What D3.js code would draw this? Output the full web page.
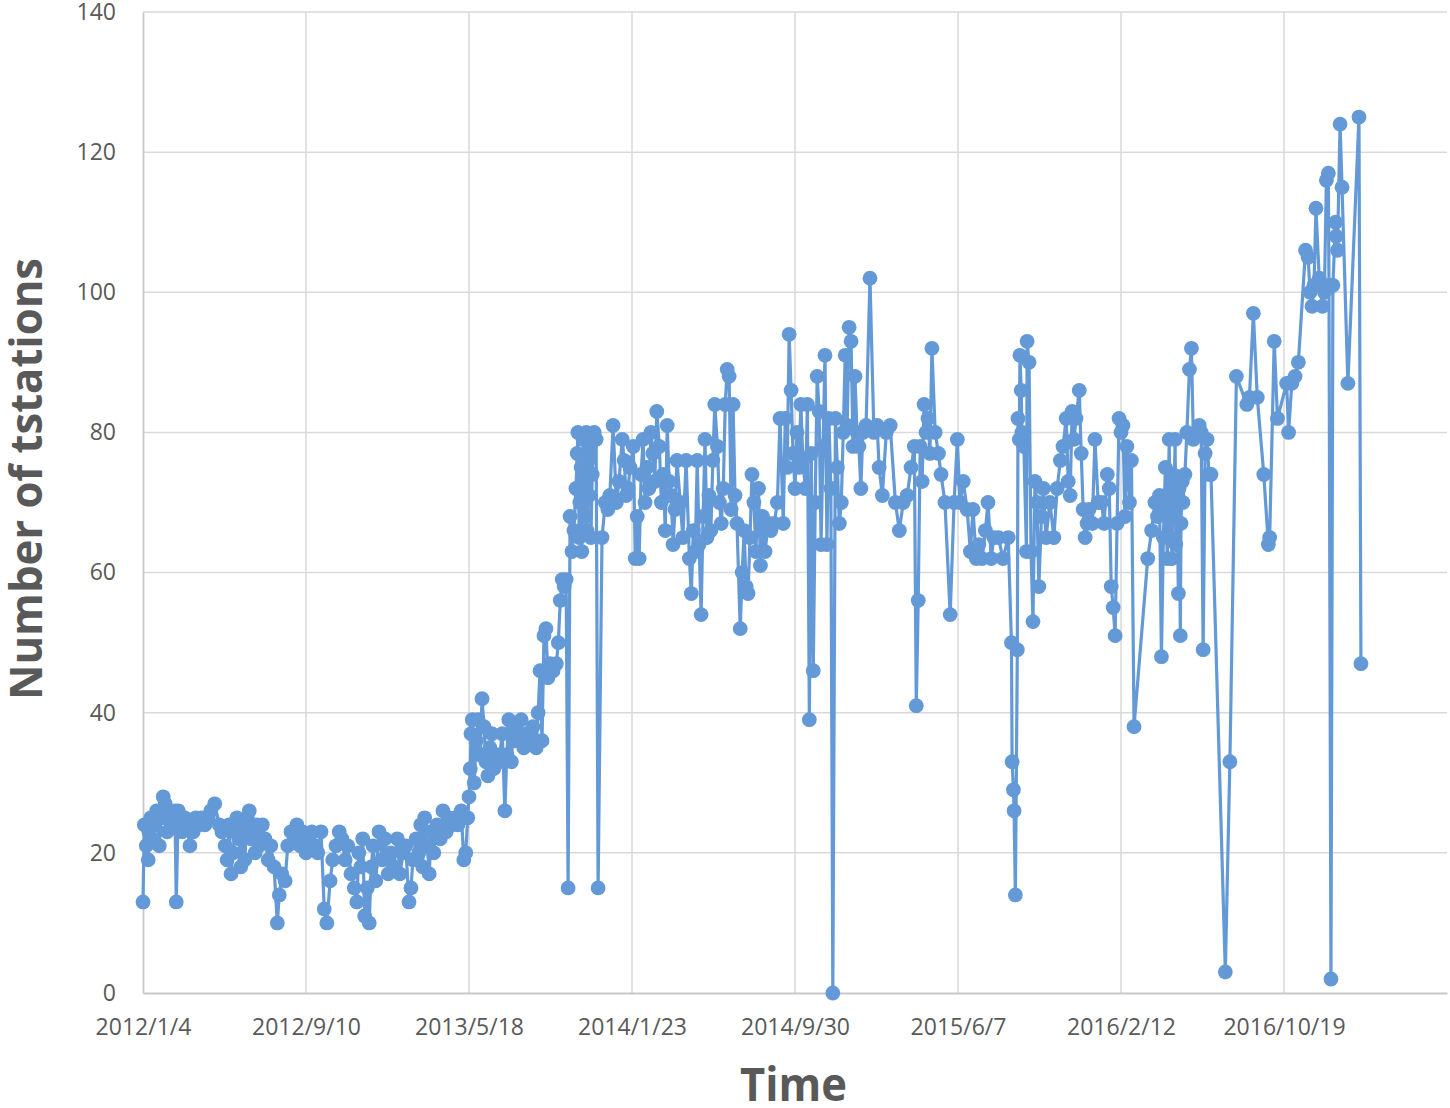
<!DOCTYPE html>
<html>
<head>
<meta charset="utf-8">
<script src="https://cdn.jsdelivr.net/npm/d3@7"></script>
<style>
  body { margin: 0; background: #ffffff; }
  svg text { font-family: "Open Sans", "Noto Sans", sans-serif; fill: #595959; }
</style>
</head>
<body>
<svg id="chart" width="1450" height="1108"></svg>
<script>
// ---------------- data ----------------
const startDate = "2012-01-04";
const xTickDays = [0, 250, 500, 750, 1000, 1250, 1500, 1750];
const xMaxDays = 2000;
const yTicks = [0, 20, 40, 60, 80, 100, 120, 140];
const xTitle = "Time";
const yTitle = "Number of tstations";

// days since 2012/1/4
const dayOffsets = [
  0,2,5,8,9,12,15,18,21,25,28,31,34,37,40,43,46,49,51,54,57,60,64,67,72,77,81,86,90,95,100,104,110,117,121,126,129,132,135,138,141,144,147,150,153,156,160,163,166,169,172,175,178,183,187,192,196,201,206,209,213,218,222,227,232,236,241,245,250,
  255,259,264,268,273,278,282,287,291,296,301,305,310,314,319,324,328,331,334,337,340,344,347,350,353,357,362,367,371,376,380,385,390,394,399,403,408,411,414,419,423,426,429,432,436,439,442,446,451,456,460,465,469,474,479,483,488,492,495,498,
  500,502,503,505,508,511,514,517,520,523,526,529,532,535,538,542,546,551,555,558,561,565,568,571,575,580,584,589,594,598,603,606,609,612,615,618,621,624,629,634,637,640,643,646,649,652,655,658,661,664,666,667,669,670,672,673,675,677,678,680,681,683,684,686,687,689,692,695,698,704,709,713,716,721,726,730,735,738,741,744,747,
  752,755,758,761,764,767,770,773,776,779,782,785,788,792,795,798,801,804,807,810,813,816,819,824,828,833,838,841,844,847,850,853,856,859,862,865,868,871,874,877,881,884,887,890,893,896,899,902,905,908,911,916,919,922,925,928,931,934,937,940,944,947,950,954,959,963,968,973,977,982,985,988,991,994,997,1000,
  1003,1006,1009,1012,1016,1019,1022,1025,1028,1031,1034,1037,1040,1043,1046,1049,1052,1055,1058,1062,1065,1068,1071,1074,1077,1080,1083,1086,1089,1092,1095,1098,1101,1104,1109,1115,1121,1126,1129,1134,1140,1146,1154,1160,1166,1172,1178,1183,1186,1189,1192,1195,1198,1201,1204,1207,1210,1215,1220,1224,1230,1238,1244,1249,
  1253,1258,1264,1269,1273,1278,1282,1287,1292,1296,1301,1305,1312,1319,1327,1332,1333,1335,1336,1338,1341,1342,1344,1345,1347,1348,1351,1355,1356,1359,1362,1365,1368,1371,1374,1378,1381,1385,1391,1397,1402,1407,1411,1416,1419,1422,1425,1428,1431,1436,1439,1442,1445,1448,1451,1456,1460,1465,1470,1474,1479,1482,1485,1488,1491,1494,1497,1500,
  1503,1506,1509,1513,1516,1520,1541,1547,1552,1556,1559,1562,1565,1568,1569,1571,1572,1574,1575,1577,1578,1580,1581,1583,1584,1586,1588,1589,1591,1592,1594,1595,1598,1601,1605,1608,1611,1615,1620,1623,1626,1629,1632,1635,1638,1660,1667,1677,1693,1697,1703,1709,1719,1726,1728,1735,1740,
  1754,1757,1762,1767,1772,1783,1787,1790,1793,1796,1799,1804,1809,1812,1815,1818,1819,1822,1825,1829,1830,1832,1836,1839,1848,1865,1868
];

const stations = [
  13,24,21,19,23,25,22,24,26,21,25,28,27,23,26,24,25,26,13,26,24,23,25,24,21,23,25,24,25,24,25,26,27,24,23,21,19,24,17,20,23,25,22,18,24,19,25,26,22,23,20,24,21,24,22,19,21,18,10,14,17,16,21,23,22,24,21,23,20,
  22,23,21,20,23,12,10,16,19,21,23,22,19,21,17,15,13,20,18,22,11,15,10,18,21,16,23,19,22,17,20,18,22,17,20,21,13,15,19,22,20,24,18,25,21,17,23,20,24,22,26,23,25,24,25,24,26,19,20,25,
  28,32,37,39,30,36,39,34,42,38,33,31,35,37,32,34,33,37,26,34,39,33,38,36,37,39,35,37,36,38,35,40,46,36,51,52,45,47,46,47,50,56,59,58,59,15,68,63,66,72,77,80,65,70,75,63,79,73,68,80,66,76,71,78,65,74,80,79,15,65,70,69,71,81,70,73,79,76,71,72,75,
  78,62,68,62,74,79,70,75,72,80,77,73,83,78,70,74,66,81,73,71,64,69,76,70,65,76,62,57,66,63,76,64,54,68,79,65,71,66,76,84,78,70,67,72,84,89,88,69,84,71,67,52,60,66,58,57,65,74,70,63,72,61,68,63,67,66,67,70,82,67,82,75,94,86,77,72,
  80,75,84,76,72,84,39,77,46,70,88,83,64,78,91,64,82,72,0,82,75,67,70,80,91,81,95,93,78,88,80,78,72,80,81,102,80,81,75,71,80,81,70,66,70,71,75,78,41,56,78,73,84,80,82,77,92,80,77,74,70,54,70,79,
  70,73,69,63,69,62,64,62,66,70,62,65,65,62,65,50,33,29,26,14,49,82,79,91,86,80,78,63,93,90,63,53,73,70,58,68,72,65,70,65,72,76,78,82,73,71,83,79,82,86,77,69,65,67,69,67,79,70,70,67,74,72,58,55,51,67,82,80,
  81,68,78,70,76,38,62,66,70,68,71,48,65,75,70,62,69,79,65,72,62,74,68,79,64,70,57,72,51,67,73,70,74,80,89,92,79,80,81,80,49,77,79,74,74,3,33,88,84,85,97,85,74,64,65,93,82,
  87,80,87,88,90,106,105,100,98,101,112,102,98,100,116,117,101,2,101,110,108,106,124,115,87,125,47
];

// ---------------- chart ----------------
const svg = d3.select("#chart");
const plotLeft = 143, plotRight = 1447, plotTop = 12, plotBottom = 993;
const parse = d3.utcParse("%Y-%m-%d");
const t0 = parse(startDate);
const toDate = d => d3.utcDay.offset(t0, d);

const x = d3.scaleUtc().domain([t0, toDate(xMaxDays)]).range([plotLeft, plotRight]);
const y = d3.scaleLinear().domain([0, 140]).range([plotBottom, plotTop]);

const n = Math.min(dayOffsets.length, stations.length);
const data = dayOffsets.slice(0, n).map((d, i) => ({ date: toDate(d), v: stations[i] }));
const fmt = d3.utcFormat("%Y/%-m/%-d");
const seriesColor = "#6399d6";

// gridlines
const grid = svg.append("g");
grid.selectAll("line.h").data(yTicks.filter(v => v > 0)).join("line")
  .attr("class", "h")
  .attr("x1", plotLeft).attr("x2", plotRight)
  .attr("y1", d => y(d)).attr("y2", d => y(d))
  .attr("stroke", "#d9d9d9").attr("stroke-width", 1.5);
grid.selectAll("line.v").data(xTickDays.filter(v => v > 0)).join("line")
  .attr("class", "v")
  .attr("x1", d => x(toDate(d))).attr("x2", d => x(toDate(d)))
  .attr("y1", plotTop).attr("y2", plotBottom)
  .attr("stroke", "#d9d9d9").attr("stroke-width", 1.5);

// axes
const xAxis = d3.axisBottom(x).tickValues(xTickDays.map(toDate)).tickFormat(fmt).tickSize(0).tickPadding(26);
const gx = svg.append("g").attr("transform", `translate(0,${plotBottom})`).call(xAxis);
gx.select(".domain").attr("stroke", "#c8c8c8").attr("stroke-width", 1.8);
gx.selectAll("text").attr("font-size", 23).attr("fill", "#595959")
  .style("font-family", '"Open Sans", sans-serif');

const yAxis = d3.axisLeft(y).tickValues(yTicks).tickSize(0).tickPadding(27);
const gy = svg.append("g").attr("transform", `translate(${plotLeft},0)`).call(yAxis);
gy.select(".domain").attr("stroke", "#c8c8c8").attr("stroke-width", 1.8);
gy.selectAll("text").attr("font-size", 23).attr("fill", "#595959")
  .style("font-family", '"Open Sans", sans-serif');

// line
const line = d3.line().x(d => x(d.date)).y(d => y(d.v));
svg.append("path").datum(data)
  .attr("d", line)
  .attr("fill", "none")
  .attr("stroke", seriesColor)
  .attr("stroke-width", 3.2)
  .attr("stroke-linejoin", "round");

// markers
svg.append("g").selectAll("circle").data(data).join("circle")
  .attr("cx", d => x(d.date)).attr("cy", d => y(d.v))
  .attr("r", 7.4)
  .attr("fill", seriesColor);

// titles
svg.append("text")
  .attr("x", 793.5).attr("y", 1101)
  .attr("text-anchor", "middle")
  .attr("font-size", 46).attr("font-weight", "bold")
  .attr("textLength", 107).attr("lengthAdjust", "spacingAndGlyphs")
  .text(xTitle);

svg.append("text")
  .attr("transform", "translate(42,479) rotate(-90)")
  .attr("text-anchor", "middle")
  .attr("font-size", 44).attr("font-weight", "bold")
  .attr("textLength", 442).attr("lengthAdjust", "spacingAndGlyphs")
  .text(yTitle);
</script>
</body>
</html>
